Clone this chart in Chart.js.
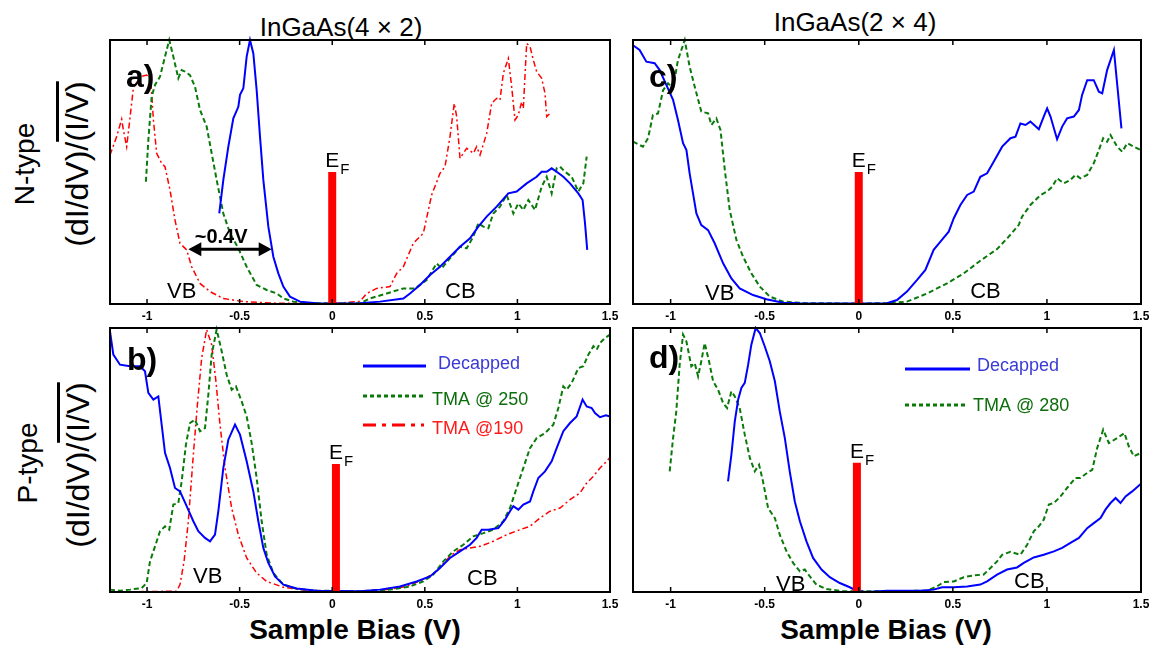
<!DOCTYPE html>
<html>
<head>
<meta charset="utf-8">
<script src="https://cdn.jsdelivr.net/npm/chart.js@4.4.1/dist/chart.umd.min.js"></script>
<style>
  body { margin: 0; width: 1153px; height: 649px; background: #fff; overflow: hidden; position: relative;
         font-family: "Liberation Sans", Arial, sans-serif; color: #000; }
  .panel { position: absolute; }
  .txt { position: absolute; white-space: nowrap; line-height: 1; }
  .rot { transform: translate(-50%, -50%) rotate(-90deg); }
  .ctr { transform: translateX(-50%); }
  .over { text-decoration: overline; }
</style>
</head>
<body>

<div class="txt ctr" style="left:341px; top:14px; font-size:26px;">InGaAs(4 × 2)</div>
<div class="txt ctr" style="left:855px; top:9px; font-size:26px;">InGaAs(2 × 4)</div>

<div class="txt rot" style="left:25px; top:164px; font-size:28px;">N-type</div>
<div class="txt rot" style="left:77px; top:164px; font-size:32px;">(dI/dV)/<span class="over">(I/V)</span></div>
<div class="txt rot" style="left:28px; top:463px; font-size:28px;">P-type</div>
<div class="txt rot" style="left:78px; top:465px; font-size:32px;">(dI/dV)/<span class="over">(I/V)</span></div>

<div class="txt ctr" style="left:355px; top:616px; font-size:28px; font-weight:bold;">Sample Bias (V)</div>
<div class="txt ctr" style="left:886px; top:616px; font-size:28px; font-weight:bold;">Sample Bias (V)</div>

<div class="panel" style="left:90px; top:36px;"><canvas id="pa" width="540" height="292"></canvas></div>
<div class="panel" style="left:90px; top:324px;"><canvas id="pb" width="540" height="292"></canvas></div>
<div class="panel" style="left:613px; top:36px;"><canvas id="pc" width="548" height="292"></canvas></div>
<div class="panel" style="left:613px; top:324px;"><canvas id="pd" width="548" height="292"></canvas></div>

<script>
// ---------------- DATA (sample bias V, normalized dI/dV/(I/V)) ----------------
const xTicks = [-1, -0.5, 0, 0.5, 1, 1.5]

// panel a) N-type InGaAs(4x2)
const aDecapped = [[-0.61,0.343],[-0.588,0.47],[-0.561,0.596],[-0.534,0.703],[-0.507,0.747],[-0.498,0.792],[-0.48,0.817],[-0.462,0.937],[-0.444,1.0],[-0.426,0.949],[-0.408,0.81],[-0.39,0.634],[-0.372,0.47],[-0.345,0.293],[-0.318,0.179],[-0.291,0.116],[-0.264,0.066],[-0.228,0.028],[-0.174,0.009],[-0.084,0.003],[0.0,0.002],[0.15,0.003],[0.258,0.009],[0.384,0.021],[0.42,0.04],[0.474,0.072],[0.528,0.11],[0.582,0.141],[0.636,0.179],[0.69,0.217],[0.744,0.249],[0.789,0.293],[0.834,0.331],[0.888,0.369],[0.951,0.419],[0.996,0.426],[1.05,0.457],[1.104,0.482],[1.131,0.501],[1.158,0.501],[1.185,0.514],[1.212,0.501],[1.248,0.482],[1.284,0.457],[1.329,0.419],[1.352,0.394],[1.365,0.306],[1.377,0.205]]
const aTma250 = [[-1.006,0.463],[-0.993,0.621],[-0.975,0.785],[-0.957,0.83],[-0.93,0.861],[-0.903,0.937],[-0.88,1.0],[-0.858,0.937],[-0.831,0.855],[-0.813,0.886],[-0.795,0.88],[-0.768,0.867],[-0.741,0.823],[-0.714,0.735],[-0.678,0.672],[-0.651,0.571],[-0.624,0.47],[-0.588,0.343],[-0.552,0.268],[-0.507,0.211],[-0.462,0.141],[-0.408,0.072],[-0.354,0.053],[-0.3,0.04],[-0.264,0.021],[-0.21,0.009],[-0.12,0.003],[0.0,0.002],[0.15,0.003],[0.204,0.021],[0.294,0.04],[0.384,0.059],[0.447,0.059],[0.51,0.091],[0.564,0.154],[0.591,0.135],[0.636,0.173],[0.69,0.217],[0.726,0.211],[0.762,0.255],[0.789,0.306],[0.816,0.293],[0.843,0.287],[0.87,0.343],[0.906,0.369],[0.942,0.413],[0.978,0.343],[1.005,0.381],[1.032,0.356],[1.059,0.394],[1.095,0.356],[1.131,0.444],[1.158,0.482],[1.185,0.419],[1.212,0.514],[1.23,0.52],[1.257,0.501],[1.293,0.482],[1.329,0.426],[1.356,0.457],[1.374,0.558]]
const aTma190 = [[-1.2,0.564],[-1.164,0.634],[-1.137,0.70],[-1.128,0.66],[-1.11,0.596],[-1.101,0.65],[-1.074,0.817],[-1.038,0.861],[-1.002,0.867],[-0.98,0.85],[-0.966,0.70],[-0.948,0.571],[-0.921,0.533],[-0.903,0.52],[-0.876,0.432],[-0.849,0.318],[-0.822,0.23],[-0.786,0.205],[-0.759,0.141],[-0.714,0.078],[-0.66,0.047],[-0.588,0.021],[-0.48,0.009],[-0.3,0.003],[0.0,0.001],[0.15,0.01],[0.186,0.04],[0.24,0.059],[0.312,0.066],[0.348,0.116],[0.384,0.141],[0.438,0.23],[0.492,0.268],[0.537,0.413],[0.582,0.495],[0.609,0.52],[0.636,0.634],[0.659,0.76],[0.672,0.71],[0.69,0.552],[0.726,0.59],[0.762,0.571],[0.78,0.596],[0.798,0.564],[0.834,0.646],[0.861,0.76],[0.888,0.779],[0.906,0.773],[0.924,0.874],[0.951,0.93],[0.969,0.823],[0.987,0.697],[1.005,0.716],[1.023,0.766],[1.032,0.741],[1.05,0.987],[1.068,0.975],[1.086,0.924],[1.104,0.88],[1.131,0.855],[1.149,0.798],[1.158,0.71],[1.176,0.722]]

// panel b) P-type InGaAs(4x2)
const bDecapped = [[-1.2,0.987],[-1.182,0.899],[-1.146,0.861],[-1.092,0.855],[-1.038,0.855],[-1.011,0.836],[-0.993,0.754],[-0.966,0.729],[-0.939,0.741],[-0.921,0.634],[-0.903,0.527],[-0.876,0.47],[-0.849,0.394],[-0.822,0.381],[-0.786,0.325],[-0.75,0.268],[-0.723,0.23],[-0.687,0.205],[-0.66,0.192],[-0.633,0.217],[-0.615,0.306],[-0.588,0.47],[-0.561,0.577],[-0.525,0.634],[-0.498,0.596],[-0.462,0.495],[-0.426,0.381],[-0.399,0.268],[-0.372,0.167],[-0.345,0.11],[-0.309,0.059],[-0.264,0.028],[-0.192,0.013],[-0.084,0.005],[0.15,0.003],[0.258,0.009],[0.366,0.021],[0.456,0.04],[0.528,0.059],[0.582,0.091],[0.636,0.129],[0.69,0.154],[0.744,0.179],[0.78,0.205],[0.807,0.236],[0.843,0.236],[0.897,0.242],[0.933,0.274],[0.96,0.306],[0.978,0.325],[1.005,0.312],[1.032,0.331],[1.068,0.343],[1.086,0.381],[1.113,0.432],[1.149,0.457],[1.185,0.495],[1.212,0.545],[1.248,0.609],[1.284,0.64],[1.32,0.665],[1.352,0.729],[1.374,0.703],[1.401,0.697],[1.419,0.678],[1.446,0.662],[1.478,0.669],[1.5,0.665]]
const bTma250 = [[-1.2,0.009],[-1.146,0.005],[-1.092,0.009],[-1.029,0.015],[-1.002,0.034],[-0.984,0.116],[-0.957,0.173],[-0.93,0.23],[-0.903,0.249],[-0.88,0.236],[-0.858,0.331],[-0.831,0.337],[-0.813,0.419],[-0.79,0.558],[-0.768,0.64],[-0.741,0.653],[-0.714,0.609],[-0.687,0.621],[-0.669,0.747],[-0.651,0.899],[-0.624,0.994],[-0.597,0.912],[-0.57,0.823],[-0.543,0.766],[-0.52,0.779],[-0.489,0.722],[-0.462,0.665],[-0.435,0.564],[-0.408,0.432],[-0.381,0.268],[-0.354,0.141],[-0.318,0.072],[-0.264,0.028],[-0.192,0.012],[-0.084,0.005],[0.15,0.003],[0.312,0.009],[0.42,0.021],[0.492,0.04],[0.546,0.066],[0.6,0.116],[0.654,0.154],[0.708,0.179],[0.762,0.211],[0.816,0.223],[0.87,0.236],[0.924,0.268],[0.96,0.318],[0.996,0.394],[1.032,0.47],[1.068,0.545],[1.104,0.583],[1.149,0.602],[1.194,0.634],[1.221,0.697],[1.248,0.779],[1.266,0.766],[1.293,0.792],[1.329,0.848],[1.356,0.855],[1.383,0.899],[1.41,0.931],[1.428,0.918],[1.446,0.943],[1.473,0.962],[1.5,0.975]]
const bTma190 = [[-1.2,0.0],[-0.84,0.003],[-0.822,0.028],[-0.8,0.116],[-0.777,0.268],[-0.75,0.52],[-0.728,0.71],[-0.705,0.886],[-0.678,0.994],[-0.651,0.937],[-0.628,0.798],[-0.606,0.634],[-0.579,0.47],[-0.543,0.318],[-0.507,0.217],[-0.462,0.129],[-0.408,0.072],[-0.354,0.04],[-0.264,0.018],[-0.156,0.008],[-0.012,0.003],[0.15,0.003],[0.294,0.009],[0.402,0.021],[0.492,0.047],[0.564,0.078],[0.609,0.116],[0.645,0.141],[0.69,0.16],[0.744,0.167],[0.798,0.173],[0.87,0.192],[0.942,0.217],[1.014,0.236],[1.068,0.249],[1.122,0.28],[1.176,0.306],[1.23,0.318],[1.284,0.35],[1.338,0.375],[1.374,0.413],[1.41,0.438],[1.446,0.47],[1.482,0.495],[1.5,0.51]]

// panel c) N-type InGaAs(2x4)
const cDecapped = [[-1.2,0.98],[-1.165,0.962],[-1.129,0.918],[-1.085,0.912],[-1.058,0.886],[-1.023,0.83],[-0.987,0.773],[-0.961,0.697],[-0.934,0.609],[-0.916,0.583],[-0.899,0.495],[-0.881,0.419],[-0.863,0.343],[-0.837,0.299],[-0.801,0.28],[-0.766,0.23],[-0.721,0.154],[-0.677,0.097],[-0.633,0.059],[-0.562,0.034],[-0.491,0.018],[-0.402,0.005],[-0.313,0.003],[0.0,0.002],[0.15,0.003],[0.203,0.015],[0.256,0.047],[0.31,0.091],[0.354,0.129],[0.398,0.205],[0.434,0.236],[0.478,0.274],[0.505,0.325],[0.54,0.375],[0.576,0.413],[0.611,0.426],[0.646,0.482],[0.682,0.495],[0.717,0.539],[0.762,0.596],[0.806,0.628],[0.833,0.634],[0.859,0.684],[0.886,0.678],[0.912,0.691],[0.957,0.662],[0.983,0.71],[1.001,0.741],[1.019,0.71],[1.054,0.624],[1.081,0.672],[1.107,0.703],[1.143,0.71],[1.17,0.735],[1.187,0.792],[1.214,0.848],[1.249,0.848],[1.276,0.804],[1.294,0.798],[1.32,0.886],[1.356,0.962],[1.373,0.836],[1.396,0.665]]
const cTma = [[-1.2,0.615],[-1.147,0.596],[-1.12,0.628],[-1.094,0.716],[-1.067,0.722],[-1.04,0.81],[-1.014,0.836],[-0.987,0.817],[-0.961,0.924],[-0.925,1.0],[-0.899,0.899],[-0.872,0.823],[-0.837,0.729],[-0.801,0.722],[-0.783,0.678],[-0.757,0.703],[-0.735,0.659],[-0.712,0.508],[-0.686,0.356],[-0.65,0.242],[-0.615,0.179],[-0.571,0.116],[-0.526,0.066],[-0.473,0.028],[-0.402,0.009],[-0.278,0.003],[0.0,0.002],[0.15,0.003],[0.256,0.009],[0.363,0.04],[0.469,0.078],[0.558,0.116],[0.646,0.164],[0.735,0.208],[0.797,0.255],[0.85,0.299],[0.868,0.331],[0.912,0.375],[0.966,0.413],[1.001,0.426],[1.028,0.444],[1.054,0.476],[1.09,0.457],[1.125,0.47],[1.152,0.489],[1.178,0.476],[1.214,0.489],[1.249,0.533],[1.276,0.583],[1.299,0.628],[1.32,0.615],[1.338,0.64],[1.373,0.596],[1.4,0.577],[1.427,0.609],[1.462,0.596],[1.5,0.583]]

// panel d) P-type InGaAs(2x4)
const dDecapped = [[-0.695,0.419],[-0.677,0.52],[-0.659,0.646],[-0.641,0.729],[-0.624,0.773],[-0.606,0.792],[-0.588,0.861],[-0.571,0.937],[-0.548,1.0],[-0.526,0.981],[-0.5,0.931],[-0.473,0.874],[-0.446,0.798],[-0.42,0.684],[-0.393,0.583],[-0.367,0.457],[-0.34,0.343],[-0.313,0.268],[-0.278,0.192],[-0.243,0.129],[-0.198,0.085],[-0.154,0.056],[-0.101,0.034],[-0.048,0.018],[-0.012,0.005],[0.041,0.0],[0.15,0.005],[0.327,0.005],[0.398,0.009],[0.443,0.018],[0.505,0.018],[0.576,0.021],[0.646,0.028],[0.682,0.04],[0.735,0.066],[0.788,0.085],[0.841,0.093],[0.877,0.11],[0.93,0.131],[0.983,0.141],[1.037,0.154],[1.081,0.167],[1.125,0.186],[1.17,0.205],[1.214,0.242],[1.249,0.261],[1.285,0.28],[1.311,0.312],[1.338,0.337],[1.365,0.356],[1.391,0.337],[1.418,0.362],[1.453,0.381],[1.5,0.41]]
const dTma280 = [[-1.005,0.457],[-0.987,0.583],[-0.97,0.684],[-0.952,0.861],[-0.934,0.975],[-0.916,0.949],[-0.89,0.855],[-0.872,0.867],[-0.854,0.817],[-0.837,0.874],[-0.819,0.943],[-0.796,0.874],[-0.774,0.798],[-0.748,0.766],[-0.721,0.716],[-0.7,0.697],[-0.677,0.76],[-0.659,0.741],[-0.633,0.697],[-0.606,0.596],[-0.579,0.508],[-0.553,0.457],[-0.53,0.482],[-0.509,0.419],[-0.482,0.318],[-0.446,0.28],[-0.42,0.217],[-0.384,0.154],[-0.349,0.11],[-0.313,0.078],[-0.287,0.085],[-0.26,0.059],[-0.225,0.028],[-0.172,0.011],[-0.083,0.003],[0.15,0.003],[0.363,0.005],[0.416,0.021],[0.451,0.038],[0.505,0.04],[0.558,0.056],[0.611,0.063],[0.664,0.066],[0.7,0.091],[0.735,0.116],[0.762,0.141],[0.806,0.152],[0.859,0.141],[0.895,0.179],[0.93,0.23],[0.957,0.249],[0.983,0.274],[1.01,0.331],[1.037,0.337],[1.072,0.362],[1.107,0.394],[1.152,0.432],[1.178,0.432],[1.214,0.451],[1.241,0.463],[1.267,0.545],[1.299,0.615],[1.329,0.564],[1.373,0.583],[1.412,0.602],[1.435,0.552],[1.462,0.514],[1.5,0.527]]

// Fermi level marker: [bias, height] per panel
const fermiA = [0, 0.5]
const fermiB = [0.02, 0.485]
const fermiC = [0, 0.5]
const fermiD = [-0.01, 0.49]

// ---------------- STYLES ----------------
const FONT = '"Liberation Sans", Arial, sans-serif'
const BLUE = "#0000ff"
const GREEN = "#0a7a0a"
const RED = "#ff0000"

const styleDecapped = { borderColor: BLUE, borderWidth: 2 }
const styleTma = { borderColor: GREEN, borderWidth: 2, borderDash: [5, 3] }
const styleTma190 = { borderColor: RED, borderWidth: 1.5, borderDash: [6, 3, 2, 3] }

function toPoints(arr) {
  return arr.map((p) => ({ x: p[0], y: p[1] }))
}

// DRAW FRAME, TICKS, LABELS, LEGEND
const panelDecor = {
  id: "panelDecor",
  afterDatasetsDraw(chart) {
    const o = chart.options.plugins.panelDecor
    const { ctx, chartArea: a } = chart
    const x = chart.scales.x
    const y = chart.scales.y
    ctx.save()

    // box
    ctx.strokeStyle = "#000"
    ctx.lineWidth = 2
    ctx.setLineDash([])
    ctx.strokeRect(a.left, a.top, a.width, a.height)

    // inner ticks top & bottom
    ctx.lineWidth = 1.5
    xTicks.forEach((v) => {
      const px = x.getPixelForValue(v)
      ctx.beginPath()
      ctx.moveTo(px, a.bottom)
      ctx.lineTo(px, a.bottom - 5)
      ctx.moveTo(px, a.top)
      ctx.lineTo(px, a.top + 5)
      ctx.stroke()
    })

    ctx.fillStyle = "#000"
    ctx.textAlign = "left"
    ctx.textBaseline = "alphabetic"

    // panel letter
    ctx.font = "bold 32px " + FONT
    ctx.fillText(o.letter, a.left + o.letterPos[0], a.top + o.letterPos[1])

    // E_F label
    const fx = x.getPixelForValue(o.fermi[0])
    const fy = y.getPixelForValue(o.fermi[1])
    ctx.font = "21px " + FONT
    ctx.fillText("E", fx - 7, fy - 5)
    const ew = ctx.measureText("E").width
    ctx.font = "15px " + FONT
    ctx.fillText("F", fx - 7 + ew + 1, fy + 2)

    // VB / CB
    ctx.font = "22px " + FONT
    o.bands.forEach((b) => {
      ctx.fillText(b[0], x.getPixelForValue(b[1]), y.getPixelForValue(b[2]))
    })

    // ~0.4V arrow
    if (o.arrow) {
      const x1 = x.getPixelForValue(o.arrow[0])
      const x2 = x.getPixelForValue(o.arrow[1])
      const ay = y.getPixelForValue(o.arrow[2])
      ctx.lineWidth = 3
      ctx.beginPath()
      ctx.moveTo(x1 + 8, ay)
      ctx.lineTo(x2 - 8, ay)
      ctx.stroke()
      ;[[x1, 1], [x2, -1]].forEach(([px, d]) => {
        ctx.beginPath()
        ctx.moveTo(px, ay)
        ctx.lineTo(px + d * 13, ay - 7)
        ctx.lineTo(px + d * 13, ay + 7)
        ctx.closePath()
        ctx.fill()
      })
      ctx.font = "bold 20px " + FONT
      ctx.textAlign = "center"
      ctx.fillText(o.arrow[3], x.getPixelForValue(o.arrow[4]), y.getPixelForValue(o.arrow[5]))
      ctx.textAlign = "left"
    }

    // legend
    if (o.legend) {
      ctx.font = "18px " + FONT
      o.legend.forEach((l) => {
        ctx.strokeStyle = l.color
        ctx.lineWidth = 3
        ctx.setLineDash(l.dash)
        ctx.beginPath()
        ctx.moveTo(a.left + l.line[0], a.top + l.line[2])
        ctx.lineTo(a.left + l.line[1], a.top + l.line[2])
        ctx.stroke()
        ctx.setLineDash([])
        ctx.fillStyle = l.textColor
        ctx.fillText(l.text, a.left + l.textPos[0], a.top + l.textPos[1])
      })
    }
    ctx.restore()
  },
}

function makePanel(id, series, decor) {
  const datasets = [
    {
      data: toPoints([[decor.fermi[0], 0], decor.fermi]),
      borderColor: RED,
      borderWidth: 8,
      borderCapStyle: "butt",
    },
  ]
  series.forEach((s) => {
    datasets.push(Object.assign({ data: toPoints(s.data) }, s.style))
  })
  datasets.forEach((d) => {
    d.pointRadius = 0
    d.fill = false
    d.tension = 0
    d.clip = 4
  })

  return new Chart(document.getElementById(id), {
    type: "line",
    data: { datasets: datasets },
    options: {
      responsive: false,
      animation: false,
      layout: { padding: { left: 20, right: 20, top: 4, bottom: 0 } },
      scales: {
        x: {
          type: "linear",
          min: -1.2,
          max: 1.5,
          afterBuildTicks: (s) => {
            s.ticks = xTicks.map((v) => ({ value: v }))
          },
          afterFit: (s) => {
            s.height = 24
          },
          grid: { display: false, drawTicks: false },
          border: { display: false },
          ticks: {
            padding: 5,
            color: "#000",
            maxRotation: 0,
            autoSkip: false,
            font: { family: FONT, size: 12, weight: "bold" },
            callback: (v) => String(v),
          },
        },
        y: { type: "linear", min: 0, max: 1, display: false },
      },
      plugins: {
        legend: { display: false },
        tooltip: { enabled: false },
        panelDecor: decor,
      },
    },
    plugins: [panelDecor],
  })
}

makePanel(
  "pa",
  [
    { data: aDecapped, style: styleDecapped },
    { data: aTma250, style: styleTma },
    { data: aTma190, style: styleTma190 },
  ],
  {
    letter: "a)",
    letterPos: [16, 47],
    fermi: fermiA,
    bands: [["VB", -0.892, 0.023], ["CB", 0.609, 0.023]],
    arrow: [-0.777, -0.327, 0.207, "~0.4V", -0.6, 0.231],
  }
)

makePanel(
  "pb",
  [
    { data: bDecapped, style: styleDecapped },
    { data: bTma250, style: styleTma },
    { data: bTma190, style: styleTma190 },
  ],
  {
    letter: "b)",
    letterPos: [17, 42],
    fermi: fermiB,
    bands: [["VB", -0.752, 0.034], ["CB", 0.728, 0.027]],
    legend: [
      { text: "Decapped", color: BLUE, textColor: "#3a3ad6", dash: [], line: [253, 316, 38], textPos: [328, 41] },
      { text: "TMA @ 250", color: GREEN, textColor: "#0b6e0b", dash: [4, 3], line: [253, 316, 68], textPos: [322, 77] },
      { text: "TMA @190", color: RED, textColor: "#ff1a1a", dash: [13, 6, 4, 6], line: [253, 314, 97], textPos: [322, 106] },
    ],
  }
)

makePanel(
  "pc",
  [
    { data: cDecapped, style: styleDecapped },
    { data: cTma, style: styleTma },
  ],
  {
    letter: "c)",
    letterPos: [16, 47],
    fermi: fermiC,
    bands: [["VB", -0.817, 0.015], ["CB", 0.592, 0.023]],
  }
)

makePanel(
  "pd",
  [
    { data: dDecapped, style: styleDecapped },
    { data: dTma280, style: styleTma },
  ],
  {
    letter: "d)",
    letterPos: [16, 40],
    fermi: fermiD,
    bands: [["VB", -0.44, 0.004], ["CB", 0.825, 0.015]],
    legend: [
      { text: "Decapped", color: BLUE, textColor: "#3a3ad6", dash: [], line: [272, 337, 41], textPos: [344, 43] },
      { text: "TMA @ 280", color: GREEN, textColor: "#0b6e0b", dash: [4, 3], line: [272, 334, 77], textPos: [340, 83] },
    ],
  }
)
</script>
</body>
</html>
